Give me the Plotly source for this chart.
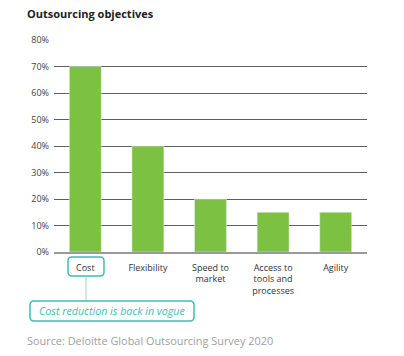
import plotly.graph_objects as go

categories = ["Cost", "Flexibility", "Speed to<br>market", "Access to<br>tools and<br>processes", "Agility"]
values = [70, 40, 20, 15, 15]
tick_vals = [0, 10, 20, 30, 40, 50, 60, 70, 80]
tick_text = [f"{v}%" for v in tick_vals]

W, H = 404, 356
L, R, T, B = 54, 37, 40, 104
PW, PH = W - L - R, H - T - B

def px(x):
    return (x - L) / PW

def py(y):
    return (H - B - y) / PH

def rrect(x0, y0, x1, y1, r=4):
    def P(x, y):
        return f"{px(x):.5f},{py(y):.5f}"
    return (f"M {P(x0 + r, y0)} L {P(x1 - r, y0)} Q {P(x1, y0)} {P(x1, y0 + r)} "
            f"L {P(x1, y1 - r)} Q {P(x1, y1)} {P(x1 - r, y1)} L {P(x0 + r, y1)} "
            f"Q {P(x0, y1)} {P(x0, y1 - r)} L {P(x0, y0 + r)} Q {P(x0, y0)} {P(x0 + r, y0)} Z")

teal = "#3dbfb5"

fig = go.Figure(go.Bar(x=categories, y=values, marker_color="#7dc142", width=0.51))

fig.update_layout(
    width=W, height=H,
    margin=dict(l=L, r=R, t=T, b=B),
    plot_bgcolor="white", paper_bgcolor="white",
    font=dict(family="Open Sans", color="#333"),
    showlegend=False,
)
fig.update_yaxes(range=[0, 80], tickvals=tick_vals, ticktext=tick_text,
                 showgrid=True, gridcolor="#5e5e66", gridwidth=1.2,
                 zeroline=False, showline=False,
                 tickfont=dict(size=9, color="#444"), ticks="", ticklabelstandoff=4)
fig.update_xaxes(showline=True, linecolor="#9a9a9a", linewidth=1.5,
                 tickfont=dict(size=9, color="#333"), ticks="", ticklabelstandoff=6)

shapes = [
    dict(type="path", xref="paper", yref="paper", path=rrect(68, 257, 104, 276),
         line=dict(color=teal, width=1.5)),
    dict(type="line", xref="paper", yref="paper", x0=px(86), x1=px(86), y0=py(276), y1=py(301),
         line=dict(color="#8ed8d1", width=1)),
    dict(type="path", xref="paper", yref="paper", path=rrect(30, 301, 194, 321),
         line=dict(color=teal, width=1.5)),
]
fig.update_layout(shapes=shapes)

fig.add_annotation(text="<b>Outsourcing objectives</b>", xref="paper", yref="paper",
                   x=px(25), y=py(14), xanchor="left", yanchor="middle", showarrow=False,
                   font=dict(size=11, color="#222"))
fig.add_annotation(text="<i>Cost reduction is back in vogue</i>", xref="paper", yref="paper",
                   x=px(112), y=py(311), xanchor="center", yanchor="middle", showarrow=False,
                   font=dict(size=10.7, color=teal))
fig.add_annotation(text="Source: Deloitte Global Outsourcing Survey 2020", xref="paper", yref="paper",
                   x=px(25), y=py(340), xanchor="left", yanchor="middle", showarrow=False,
                   font=dict(size=10.9, color="#a0a0a0"))

fig.write_html("out.html", config={"displayModeBar": False},
               post_script="document.body.style.margin='0';document.body.style.overflow='hidden';")
